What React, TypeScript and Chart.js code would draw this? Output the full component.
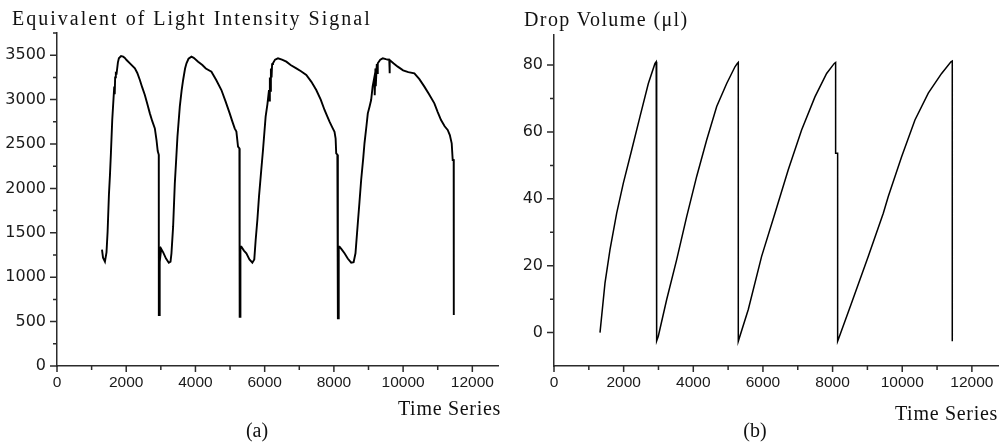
import React, { useEffect, useRef } from 'react';
import { Chart, registerables } from 'chart.js';

Chart.register(...registerables);

// ---- data: (a) equivalent of light intensity signal ----
const signalX = [
  1300, 1330, 1385, 1430, 1462, 1500, 1530, 1558, 1596, 1654, 1668, 1680, 1700, 1722, 1760, 1788, 1850, 1913, 1960, 2010,
  2100, 2250, 2320, 2394, 2460, 2538, 2610, 2683, 2750, 2827, 2875, 2910, 2940, 2942, 2950, 2960, 2975,
  2990, 3010, 3068, 3150, 3230, 3280, 3307, 3355, 3404, 3440, 3480, 3548, 3600, 3644, 3700, 3741, 3800, 3885, 3950,
  4077, 4200, 4300, 4462, 4600, 4750, 4870, 4990, 5060, 5134, 5183, 5230, 5270, 5278, 5290, 5300, 5327,
  5400, 5471, 5560, 5644, 5700, 5740, 5790, 5836, 5900, 5952, 6028, 6080, 6125, 6135, 6150, 6165, 6180, 6200, 6215, 6240,
  6300, 6385, 6500, 6626, 6750, 6915, 7050, 7203, 7350, 7491, 7620, 7730, 7800, 7874, 7950, 8018, 8050, 8067, 8100,
  8115, 8130, 8140, 8163, 8230, 8307, 8400, 8500, 8570, 8624, 8691, 8740, 8788, 8850, 8884, 8940, 8980, 9030, 9076,
  9120, 9172, 9180, 9200, 9210, 9240, 9250, 9268, 9340, 9413, 9500, 9600, 9605, 9620, 9720, 9845, 10000, 10150,
  10326, 10470, 10614, 10750, 10903, 11000, 11096, 11200, 11288, 11350, 11404, 11433, 11461, 11461, 11463, 11466, 11468,
];
const signalY = [
  1310, 1220, 1175, 1280, 1512, 1925, 2150, 2398, 2770, 3146, 3060, 3250, 3300, 3296, 3420, 3465, 3490, 3483, 3470, 3446,
  3410, 3352, 3300, 3221, 3140, 3052, 2950, 2845, 2760, 2676, 2545, 2420, 2380, 574, 574, 1344, 1300,
  1250, 1320, 1280, 1210, 1163, 1175, 1269, 1569, 2057, 2300, 2582, 2920, 3100, 3221, 3350, 3409, 3460, 3483, 3470,
  3427, 3390, 3350, 3314, 3220, 3108, 2980, 2845, 2760, 2676, 2640, 2470, 2450, 555, 555, 1344, 1344,
  1300, 1269, 1200, 1163, 1200, 1419, 1650, 1907, 2200, 2432, 2808, 2950, 3108, 2990, 3250, 3100, 3350, 3250, 3400, 3409,
  3450, 3465, 3450, 3427, 3390, 3352, 3320, 3277, 3200, 3108, 3000, 2883, 2820, 2751, 2690, 2638, 2560, 2395, 2380,
  537, 537, 1344, 1344, 1310, 1269, 1210, 1163, 1170, 1269, 1607, 1850, 2095, 2350, 2508, 2700, 2845, 2920, 2995,
  3150, 3258, 3050, 3350, 3150, 3400, 3300, 3409, 3450, 3465, 3455, 3446, 3296, 3446, 3410, 3371, 3330, 3310,
  3296, 3230, 3146, 3060, 2958, 2860, 2770, 2700, 2658, 2600, 2508, 2320, 2320, 574, 1344, 574, 1344,
];

// ---- data: (b) drop volume (ul) ----
const volumeX = [
  1321, 1464, 1608, 1800, 1991, 2231, 2469, 2709, 2900, 2935, 2948, 2948,
  2995, 3236, 3523, 3810, 4097, 4384, 4672, 4959, 5197, 5263, 5292, 5292,
  5579, 5962, 6345, 6727, 7110, 7493, 7829, 8049, 8087, 8087, 8145, 8145,
  8164, 8547, 9026, 9456, 9599, 9982, 10365, 10748, 11131, 11398, 11437, 11437,
];
const volumeY = [
  0, 14.8, 24.8, 35.7, 44.7, 54.6, 64.6, 74.5, 80.5, 81, 81, -2.5,
  -1.1, 9.9, 21.8, 34.7, 46.7, 57.6, 67.6, 74.5, 79.5, 80.5, 80.8, -2.6,
  6.9, 22.8, 35.7, 48.7, 60.6, 70.5, 77.5, 80.5, 80.8, 53.6, 53.6, -2.6,
  -2.1, 8.9, 22.8, 35.7, 40.7, 52.6, 63.6, 71.6, 77.5, 81, 81.2, -2.6,
];

// ---- tick labels ----
const timeTicks = [0, 2000, 4000, 6000, 8000, 10000, 12000];
const signalTicks = [0, 500, 1000, 1500, 2000, 2500, 3000, 3500];
const volumeTicks = [0, 20, 40, 60, 80];

const AXIS = '#2b2b2b';

const ticksPlugin = {
  id: 'mapleTicks',
  afterDraw(chart: any, _args: any, o: any) {
    const { ctx, chartArea: a, scales } = chart;
    const x = scales.x;
    const y = scales.y;
    ctx.save();
    ctx.strokeStyle = AXIS;
    ctx.lineWidth = 1.5;
    ctx.beginPath();
    for (let v = 0; v <= x.max + 1e-9; v += o.xMinor) {
      const p = x.getPixelForValue(v);
      const len = Math.abs(v % o.xMajor) < 1e-9 ? 6 : 4;
      ctx.moveTo(p, a.bottom);
      ctx.lineTo(p, a.bottom + len);
    }
    for (let v = o.yFrom; v <= y.max + 1e-9; v += o.yMinor) {
      const p = y.getPixelForValue(v);
      const len = Math.abs(v % o.yMajor) < 1e-9 ? 7 : 4;
      ctx.moveTo(a.left, p);
      ctx.lineTo(a.left - len, p);
    }
    ctx.stroke();
    ctx.restore();
  },
};

type PlotProps = {
  left: number; w: number; h: number;
  xs: number[]; ys: number[];
  yTicks: number[]; yMin: number; yMax: number;
  yMinor: number; yMajor: number; yFrom: number;
  axisLeft: number; top: number; bottom: number; right: number;
  lw: number; yFont: number;
};

function Plot(p: PlotProps) {
  const ref = useRef<HTMLCanvasElement | null>(null);
  useEffect(() => {
    if (!ref.current) return;
    const chart = new Chart(ref.current, {
      type: 'line',
      data: {
        datasets: [{
          data: p.xs.map((x, i) => ({ x, y: p.ys[i] })),
          borderColor: '#000',
          borderWidth: p.lw,
          pointRadius: 0,
          tension: 0,
          fill: false,
        }],
      },
      options: {
        responsive: false,
        animation: false,
        events: [],
        layout: { padding: { top: p.top, right: p.right, left: 0, bottom: 0 } },
        plugins: {
          legend: { display: false },
          tooltip: { enabled: false },
          mapleTicks: { xMinor: 1000, xMajor: 2000, yMinor: p.yMinor, yMajor: p.yMajor, yFrom: p.yFrom },
        } as any,
        scales: {
          x: {
            type: 'linear',
            min: 0,
            max: 12750,
            afterBuildTicks: (s: any) => { s.ticks = timeTicks.map((v) => ({ value: v })); },
            afterFit: (s: any) => { s.height = p.h - p.bottom; },
            grid: { display: false, drawTicks: false },
            border: { display: true, color: AXIS, width: 1.5 },
            ticks: {
              padding: 7,
              color: '#1a1a1a',
              autoSkip: false,
              maxRotation: 0,
              font: { family: 'Liberation Sans', size: 15.5 },
              callback: (v: any) => String(v),
            },
          },
          y: {
            type: 'linear',
            min: p.yMin,
            max: p.yMax,
            afterBuildTicks: (s: any) => { s.ticks = p.yTicks.map((v) => ({ value: v })); },
            afterFit: (s: any) => { s.width = p.axisLeft; },
            grid: { display: false, drawTicks: false },
            border: { display: true, color: AXIS, width: 1.5 },
            ticks: {
              padding: 11,
              color: '#1a1a1a',
              autoSkip: false,
              font: { family: 'DejaVu Sans', size: p.yFont },
              callback: (v: any) => String(v),
            },
          },
        },
      } as any,
      plugins: [ticksPlugin as any],
    });
    return () => chart.destroy();
  }, []);
  return (
    <canvas
      ref={ref}
      width={p.w}
      height={p.h}
      style={{ position: 'absolute', left: p.left, top: 0, width: p.w, height: p.h }}
    />
  );
}

const txt: React.CSSProperties = {
  position: 'absolute',
  fontFamily: '"Liberation Serif", "Times New Roman", serif',
  fontSize: 20,
  lineHeight: '20px',
  color: '#111',
  whiteSpace: 'nowrap',
  margin: 0,
};

export default function App() {
  return (
    <div style={{ position: 'absolute', left: 0, top: 0, width: 1002, height: 448, background: '#fff', overflow: 'hidden' }}>
      <Plot
        left={0} w={501} h={448}
        xs={signalX} ys={signalY}
        yTicks={signalTicks} yMin={0} yMax={3750}
        yMinor={250} yMajor={500} yFrom={0}
        axisLeft={57} top={33} bottom={366} right={2}
        lw={1.9} yFont={16}
      />
      <Plot
        left={501} w={501} h={448}
        xs={volumeX} ys={volumeY}
        yTicks={volumeTicks} yMin={-10} yMax={89}
        yMinor={10} yMajor={20} yFrom={0}
        axisLeft={53} top={35} bottom={366} right={4}
        lw={1.5} yFont={16}
      />
      <div style={{ ...txt, left: 12, top: 8, letterSpacing: '2px' }}>Equivalent of Light Intensity Signal</div>
      <div style={{ ...txt, left: 524, top: 9, letterSpacing: '1.4px' }}>Drop Volume (μl)</div>
      <div style={{ ...txt, left: 380, width: 121, top: 398, textAlign: 'right', letterSpacing: '0.7px' }}>Time Series</div>
      <div style={{ ...txt, left: 877, width: 121, top: 403, textAlign: 'right', letterSpacing: '0.7px' }}>Time Series</div>
      <div style={{ ...txt, left: 217, width: 80, top: 420, textAlign: 'center' }}>(a)</div>
      <div style={{ ...txt, left: 715, width: 80, top: 420, textAlign: 'center' }}>(b)</div>
    </div>
  );
}
